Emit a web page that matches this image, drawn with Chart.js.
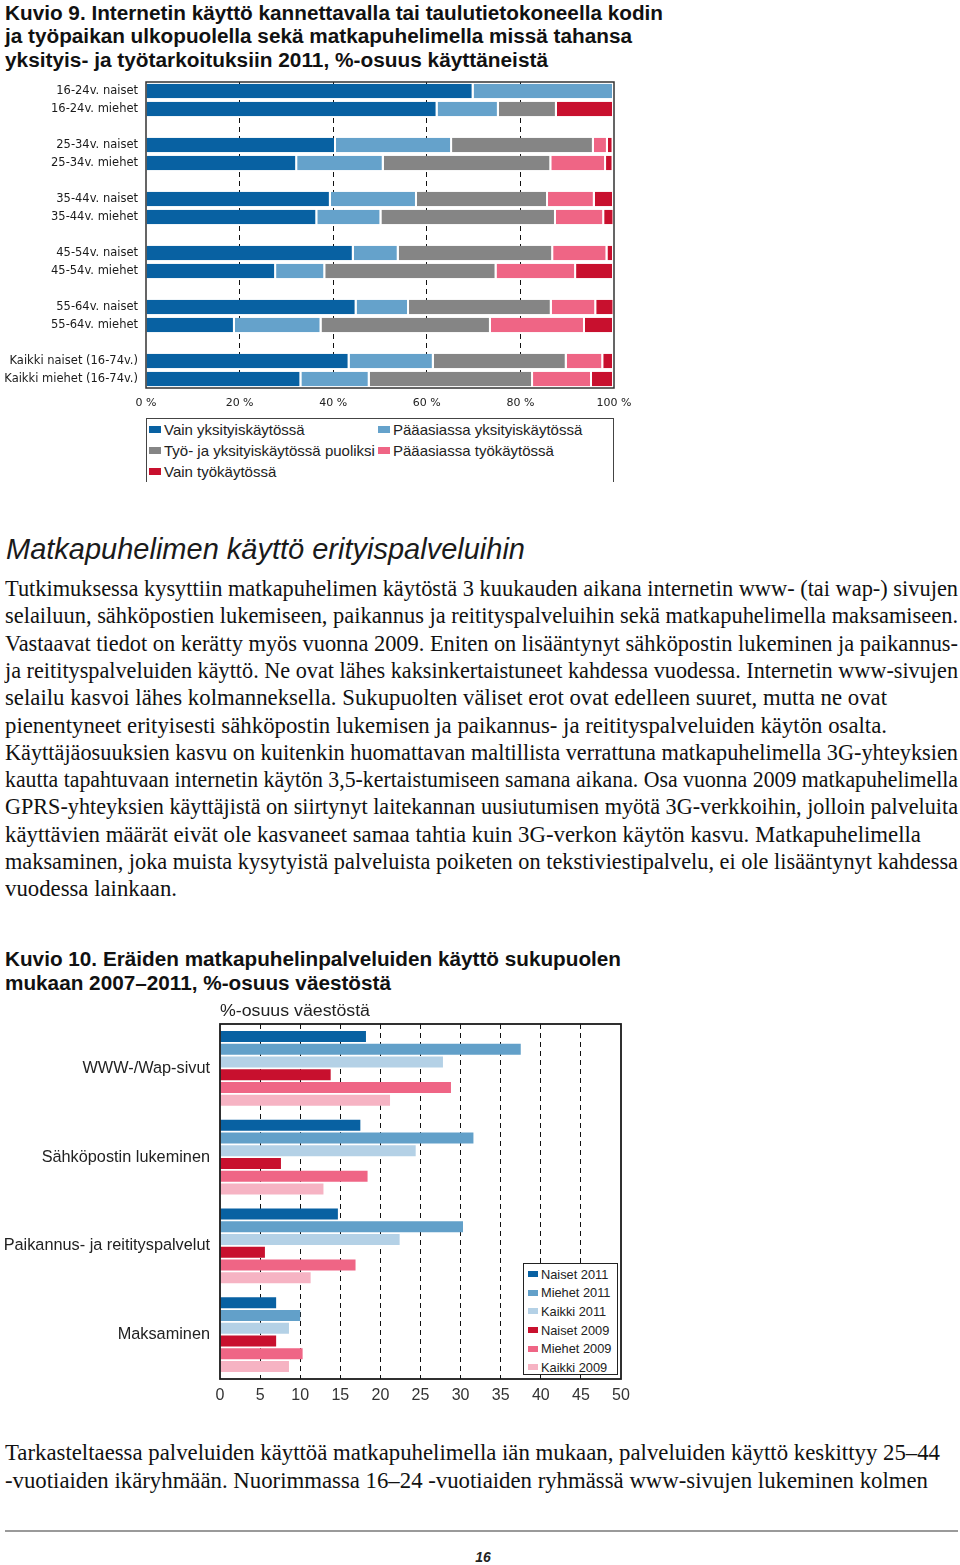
<!DOCTYPE html>
<html lang="fi">
<head>
<meta charset="utf-8">
<title>Kuvio 9 ja Kuvio 10</title>
<script src="https://cdn.jsdelivr.net/npm/chart.js@4.4.1/dist/chart.umd.min.js"></script>
<style>
  html, body { margin: 0; padding: 0; background: #fff; }
  body { width: 960px; height: 1565px; position: relative; overflow: hidden; }
  .t { position: absolute; white-space: nowrap; transform-origin: 0 50%; color: #111; }
  .title { font-family: "Liberation Sans", Arial, sans-serif; font-weight: bold; font-size: 19.5px; }
  .heading { font-family: "Liberation Sans", Arial, sans-serif; font-style: italic; font-size: 29px; color: #1a1a1a; }
  .body { font-family: "Liberation Serif", "Times New Roman", serif; font-size: 23px; }
  .axistitle { font-family: "Liberation Sans", Arial, sans-serif; font-size: 16px; color: #222; }
  canvas { position: absolute; left: 0; }
  #kuvio9 { top: 75px; }
  #kuvio10 { top: 1015px; }
  .legend1 { position: absolute; left: 146px; top: 418px; width: 468px; height: 64px; box-sizing: border-box;
             border: 1px solid #444; border-bottom: none; padding: 0 0 0 2px;
             display: grid; grid-template-columns: 229px 1fr; grid-auto-rows: 21px;
             font-family: "Liberation Sans", Arial, sans-serif; font-size: 15px; color: #222; }
  .legend1 div, .legend2 div { white-space: nowrap; display: flex; align-items: center; }
  .legend1 span.sw { display: inline-block; width: 12px; height: 7px; margin-right: 3px; }
  .legend2 { position: absolute; left: 523px; top: 1263px; width: 95px; height: 112px; box-sizing: border-box;
             border: 1.5px solid #222; background: #fff; padding: 1px 0 0 4px;
             font-family: "Liberation Sans", Arial, sans-serif; font-size: 12.8px; color: #222; }
  .legend2 div { height: 18.6px; }
  .legend2 span.sw { display: inline-block; width: 10px; height: 6px; margin-right: 3px; }
  .rule { position: absolute; left: 5px; top: 1530px; width: 953px; height: 2px; background: #9a9a9a; }
  .pagenum { position: absolute; left: 0; width: 966px; top: 1549px; text-align: center;
             font-family: "Liberation Sans", Arial, sans-serif; font-style: italic; font-weight: bold; font-size: 14px; color: #222; }
</style>
</head>
<body>
<canvas id="kuvio9" width="640" height="335"></canvas>
<div class="legend1" id="legend9"></div>
<canvas id="kuvio10" width="660" height="400"></canvas>
<div class="legend2" id="legend10"></div>
<div class="rule"></div>
<div class="pagenum">16</div>

<script>
// Kuvio 9: käyttötarkoitus, % käyttäneistä
const ageRows = ['16-24v. naiset', '16-24v. miehet', '25-34v. naiset', '25-34v. miehet',
  '35-44v. naiset', '35-44v. miehet', '45-54v. naiset', '45-54v. miehet',
  '55-64v. naiset', '55-64v. miehet', 'Kaikki naiset (16-74v.)', 'Kaikki miehet (16-74v.)'];
const vainYksityis  = [70.0, 62.3, 40.6, 32.3, 39.5, 36.6, 44.4, 27.8, 45.0, 19.0, 43.5, 33.2];
const paaasiassaYks = [30.0, 13.1, 24.8, 18.5, 18.4, 13.7,  9.6, 10.5, 11.2, 18.5, 18.0, 14.6];
const puoliksi      = [ 0.0, 12.4, 30.3, 35.8, 28.0, 37.3, 33.0, 36.6, 30.5, 36.2, 28.4, 34.9];
const paaasiassaTyo = [ 0.0,  0.0,  3.0, 11.7, 10.0, 10.3, 11.6, 17.0,  9.5, 20.1,  7.8, 12.6];
const vainTyo       = [ 0.0, 12.2,  1.2,  1.6,  4.1,  2.2,  1.4,  8.1,  3.9,  6.2,  2.3,  4.7];
const usageLabels = ['Vain yksityiskäytössä', 'Pääasiassa yksityiskäytössä', 'Työ- ja yksityiskäytössä puoliksi',
  'Pääasiassa työkäytössä', 'Vain työkäytössä'];
const usageColors = ['#0861a2', '#65a2cb', '#858585', '#ef6585', '#c8102e'];
const xTicks9 = [0, 20, 40, 60, 80, 100];

// Kuvio 10: palvelujen käyttö, % väestöstä
const palvelut = ['WWW-/Wap-sivut', 'Sähköpostin lukeminen', 'Paikannus- ja reitityspalvelut', 'Maksaminen'];
const naiset2011 = [18.2, 17.5, 14.7, 7.0];
const miehet2011 = [37.5, 31.6, 30.3, 10.0];
const kaikki2011 = [27.8, 24.4, 22.4, 8.6];
const naiset2009 = [13.8, 7.6, 5.6, 7.0];
const miehet2009 = [28.8, 18.4, 16.9, 10.3];
const kaikki2009 = [21.2, 12.9, 11.3, 8.6];
const seriesLabels10 = ['Naiset 2011', 'Miehet 2011', 'Kaikki 2011', 'Naiset 2009', 'Miehet 2009', 'Kaikki 2009'];
const seriesColors10 = ['#0861a2', '#62a0c9', '#b4d1e6', '#c8102e', '#ef6585', '#f6b3c3'];

// text blocks: [text, centre y, right edge]
const titleLines = [
  ['Kuvio 9. Internetin käyttö kannettavalla tai taulutietokoneella kodin', 13, 663],
  ['ja työpaikan ulkopuolella sekä matkapuhelimella missä tahansa', 36.5, 632],
  ['yksityis- ja työtarkoituksiin 2011, %-osuus käyttäneistä', 60, 548],
  ['Kuvio 10. Eräiden matkapuhelinpalveluiden käyttö sukupuolen', 959, 621],
  ['mukaan 2007–2011, %-osuus väestöstä', 983, 391]
];
const bodyLines = [
  ['Tutkimuksessa kysyttiin matkapuhelimen käytöstä 3 kuukauden aikana internetin www- (tai wap-) sivujen', 958],
  ['selailuun, sähköpostien lukemiseen, paikannus ja reitityspalveluihin sekä matkapuhelimella maksamiseen.', 958],
  ['Vastaavat tiedot on kerätty myös vuonna 2009. Eniten on lisääntynyt sähköpostin lukeminen ja paikannus-', 958],
  ['ja reitityspalveluiden käyttö. Ne ovat lähes kaksinkertaistuneet kahdessa vuodessa. Internetin www-sivujen', 958],
  ['selailu kasvoi lähes kolmanneksella. Sukupuolten väliset erot ovat edelleen suuret, mutta ne ovat', 887],
  ['pienentyneet erityisesti sähköpostin lukemisen ja paikannus- ja reitityspalveluiden käytön osalta.', 887],
  ['Käyttäjäosuuksien kasvu on kuitenkin huomattavan maltillista verrattuna matkapuhelimella 3G-yhteyksien', 958],
  ['kautta tapahtuvaan internetin käytön 3,5-kertaistumiseen samana aikana. Osa vuonna 2009 matkapuhelimella', 958],
  ['GPRS-yhteyksien käyttäjistä on siirtynyt laitekannan uusiutumisen myötä 3G-verkkoihin, jolloin palveluita', 958],
  ['käyttävien määrät eivät ole kasvaneet samaa tahtia kuin 3G-verkon käytön kasvu. Matkapuhelimella', 921],
  ['maksaminen, joka muista kysytyistä palveluista poiketen on tekstiviestipalvelu, ei ole lisääntynyt kahdessa', 958],
  ['vuodessa lainkaan.', 177]
];
const bottomLines = [
  ['Tarkasteltaessa palveluiden käyttöä matkapuhelimella iän mukaan, palveluiden käyttö keskittyy 25–44', 1453, 940],
  ['-vuotiaiden ikäryhmään. Nuorimmassa 16–24 -vuotiaiden ryhmässä www-sivujen lukeminen kolmen', 1480.5, 928]
];

function place(text, cls, y, right, left) {
  left = left || 5;
  const el = document.createElement('div');
  el.className = 't ' + cls;
  el.textContent = text;
  document.body.appendChild(el);
  const r = el.getBoundingClientRect();
  el.style.left = left + 'px';
  el.style.top = (y - r.height / 2) + 'px';
  if (right) el.style.transform = 'scaleX(' + ((right - left) / r.width) + ')';
}

titleLines.forEach(l => place(l[0], 'title', l[1], l[2]));
place('Matkapuhelimen käyttö erityispalveluihin', 'heading', 549, 525, 6);
bodyLines.forEach((l, i) => place(l[0], 'body', 589 + i * 27.3, l[1]));
bottomLines.forEach(l => place(l[0], 'body', l[1], l[2]));
place('%-osuus väestöstä', 'axistitle', 1011, 370, 220);

// blank row between each pair of age groups
function withSpacers(arr, blank) {
  const out = [];
  arr.forEach((v, i) => {
    out.push(v);
    if (i % 2 === 1 && i < arr.length - 1) out.push(blank);
  });
  return out;
}

const framePlugin = {
  id: 'frame',
  afterDatasetsDraw(chart, args, opts) {
    const { ctx, chartArea: a } = chart;
    ctx.save();
    ctx.strokeStyle = opts.color || '#222';
    ctx.lineWidth = opts.width || 1;
    ctx.strokeRect(a.left, a.top, a.right - a.left, a.bottom - a.top);
    ctx.restore();
  }
};

const innerGrid = (lo, hi) => ctx => (ctx.tick && ctx.tick.value > lo && ctx.tick.value < hi) ? '#111' : 'rgba(0,0,0,0)';

// fixed axis size, no extra label overflow padding
const fixSize = (w, h) => s => {
  if (w) s.width = w;
  if (h) s.height = h;
  s.paddingTop = 0; s.paddingBottom = 0; s.paddingLeft = 0; s.paddingRight = 0;
};

const usageSeries = [vainYksityis, paaasiassaYks, puoliksi, paaasiassaTyo, vainTyo];

const chart9 = new Chart(document.getElementById('kuvio9'), {
  type: 'bar',
  data: {
    labels: withSpacers(ageRows, ''),
    datasets: usageSeries.map((d, i) => ({
      label: usageLabels[i],
      data: withSpacers(d, null),
      backgroundColor: usageColors[i],
      borderColor: '#fff',
      borderWidth: { top: 0, bottom: 0, left: 0, right: 2 },
      borderSkipped: false,
      categoryPercentage: 1,
      barPercentage: 0.8
    }))
  },
  options: {
    indexAxis: 'y',
    responsive: false,
    animation: false,
    layout: { autoPadding: false, padding: { top: 7, right: 26, bottom: 0, left: 0 } },
    plugins: {
      legend: { display: false },
      tooltip: { enabled: false },
      frame: { color: '#333', width: 1.5 }
    },
    scales: {
      x: {
        stacked: true, min: 0, max: 100,
        afterBuildTicks: s => { s.ticks = xTicks9.map(v => ({ value: v })); },
        ticks: { callback: v => v + ' %', padding: 9, color: '#222', font: { family: 'DejaVu Sans', size: 11 } },
        grid: { color: innerGrid(0, 100), lineWidth: 1, drawTicks: false },
        border: { display: false, dash: [5, 4] },
        afterFit: fixSize(0, 22)
      },
      y: {
        stacked: true,
        grid: { display: false, drawTicks: false },
        border: { display: false },
        ticks: { padding: 8, autoSkip: false, color: '#1a1a1a', font: { family: 'DejaVu Sans', size: 11.5 } },
        afterFit: fixSize(146, 0)
      }
    }
  },
  plugins: [framePlugin]
});

const series10 = [naiset2011, miehet2011, kaikki2011, naiset2009, miehet2009, kaikki2009];

const chart10 = new Chart(document.getElementById('kuvio10'), {
  type: 'bar',
  data: {
    labels: palvelut,
    datasets: series10.map((d, i) => ({
      label: seriesLabels10[i],
      data: d,
      backgroundColor: seriesColors10[i],
      categoryPercentage: 0.86,
      barPercentage: 0.87
    }))
  },
  options: {
    indexAxis: 'y',
    responsive: false,
    animation: false,
    layout: { autoPadding: false, padding: { top: 9, right: 39, bottom: 0, left: 0 } },
    plugins: {
      legend: { display: false },
      tooltip: { enabled: false },
      frame: { color: '#1a1a1a', width: 1.8 }
    },
    scales: {
      x: {
        min: 0, max: 50,
        ticks: { stepSize: 5, padding: 7, color: '#333', font: { family: 'Liberation Sans', size: 16 } },
        grid: { color: innerGrid(0, 50), lineWidth: 1, drawTicks: false },
        border: { display: false, dash: [5, 4] },
        afterFit: fixSize(0, 36)
      },
      y: {
        grid: { display: false, drawTicks: false },
        border: { display: false },
        ticks: { padding: 10, color: '#222', font: { family: 'Liberation Sans', size: 16.3 } },
        afterFit: fixSize(220, 0)
      }
    }
  },
  plugins: [framePlugin]
});

// html legends built from the chart datasets
function buildLegend(chart, el) {
  chart.data.datasets.forEach(ds => {
    const row = document.createElement('div');
    const sw = document.createElement('span');
    sw.className = 'sw';
    sw.style.background = ds.backgroundColor;
    row.appendChild(sw);
    row.appendChild(document.createTextNode(ds.label));
    el.appendChild(row);
  });
}
buildLegend(chart9, document.getElementById('legend9'));
buildLegend(chart10, document.getElementById('legend10'));
</script>
</body>
</html>
